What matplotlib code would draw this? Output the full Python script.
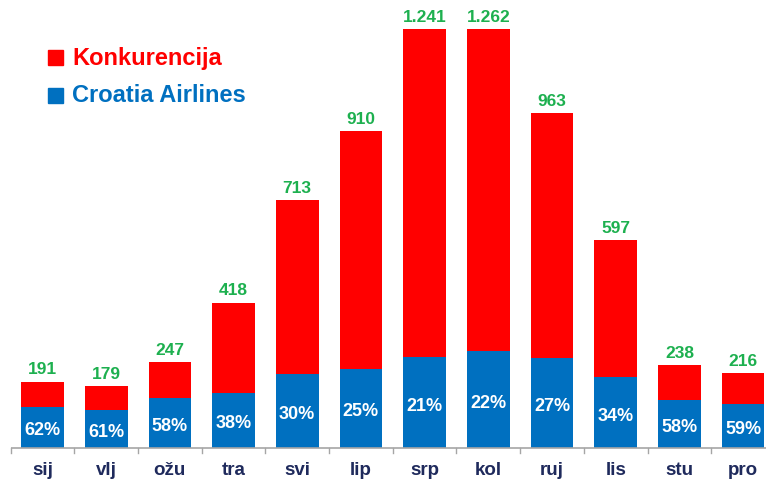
import matplotlib.pyplot as plt
import matplotlib.patches as mpatches
import numpy as np

plt.rcParams['font.family'] = ['Liberation Sans', 'DejaVu Sans']

months = ['sij', 'vlj', 'ožu', 'tra', 'svi', 'lip', 'srp', 'kol', 'ruj', 'lis', 'stu', 'pro']
totals = [191, 179, 247, 418, 713, 910, 1241, 1262, 963, 597, 238, 216]
total_labels = ['191', '179', '247', '418', '713', '910', '1.241', '1.262', '963', '597', '238', '216']
ca_share = [62, 61, 58, 38, 30, 25, 21, 22, 27, 34, 58, 59]

red = '#FF0000'
blue = '#0070C0'
green = '#1DB04F'
navy = '#1F2A5C'

totals = np.array(totals)
ca = totals * np.array(ca_share) / 100.0
comp = totals - ca
x = np.arange(len(months))
ymax = 1204

fig = plt.figure(figsize=(7.66, 4.88), dpi=100)
ax = fig.add_axes([0, 40 / 488, 1, 419 / 488])

ax.bar(x, ca, width=0.67, color=blue, zorder=2)
ax.bar(x, comp, bottom=ca, width=0.67, color=red, zorder=2)

for i in range(len(months)):
    top = min(totals[i], ymax)
    ax.text(x[i], top + 12, total_labels[i], ha='center', va='bottom',
            color=green, fontsize=12.5, fontweight='bold', clip_on=False)
    ax.text(x[i], ca[i] / 2 - 10, '{}%'.format(ca_share[i]), ha='center', va='center',
            color='white', fontsize=13, fontweight='bold')

ax.set_xlim(-0.667, 11.36)
ax.set_ylim(0, ymax)
for s in ax.spines.values():
    s.set_visible(False)
ax.set_yticks([])
ax.hlines(0, -0.5, 11.6, color='#A6A6A6', lw=1.2, zorder=3, clip_on=False)
for b in np.arange(-0.5, 12, 1):
    ax.plot([b, b], [0, -14], color='#A6A6A6', lw=1, clip_on=False)

ax.set_xticks(x)
ax.set_xticklabels(months, fontsize=13.5, fontweight='bold', color=navy)
ax.tick_params(axis='x', length=0, pad=10)

# legend
fig.patches.append(mpatches.Rectangle((48 / 766, 1 - 65 / 488), 15 / 766, 15 / 488,
                                      transform=fig.transFigure, color=red))
fig.patches.append(mpatches.Rectangle((48 / 766, 1 - 103 / 488), 15 / 766, 15 / 488,
                                      transform=fig.transFigure, color=blue))
fig.text(72 / 766, 1 - 58 / 488, 'Konkurencija', color=red, fontsize=17,
         fontweight='bold', va='center')
fig.text(72 / 766, 1 - 96 / 488, 'Croatia Airlines', color=blue, fontsize=17,
         fontweight='bold', va='center')

plt.savefig('out.png', dpi=100)
